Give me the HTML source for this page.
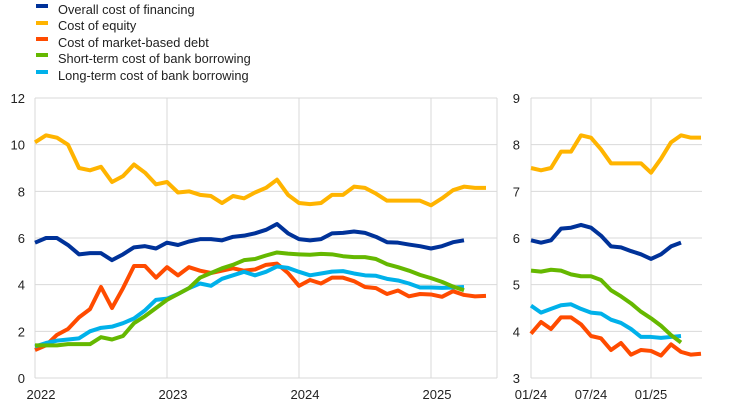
<!DOCTYPE html>
<html><head><meta charset="utf-8"><style>
html,body{margin:0;padding:0;background:#fff;}
svg{display:block;font-family:"Liberation Sans",Arial,sans-serif;}
</style></head><body>
<svg id="c" width="742" height="404" xmlns="http://www.w3.org/2000/svg">
<g fill="none" stroke="#d9d9d9" stroke-width="1" id="grid"></g>
<g id="lines" fill="none" stroke-width="4" stroke-linejoin="round" stroke-linecap="butt"></g>
<g font-size="13" fill="#222" id="labels"></g>
<g font-size="12.8" fill="#222">
<rect x="36" y="4" width="12" height="4" fill="#003299"/><text x="58" y="14">Overall cost of financing</text>
<rect x="36" y="21" width="12" height="4" fill="#ffb400"/><text x="58" y="30">Cost of equity</text>
<rect x="36" y="37" width="12" height="4" fill="#ff4b00"/><text x="58" y="47">Cost of market-based debt</text>
<rect x="36" y="53" width="12" height="4" fill="#65b800"/><text x="58" y="63">Short-term cost of bank borrowing</text>
<rect x="36" y="70" width="12" height="4" fill="#00b1ea"/><text x="58" y="80">Long-term cost of bank borrowing</text>
</g>
</svg>
<script>
var NS="http://www.w3.org/2000/svg";
function el(p,t,a,txt){var e=document.createElementNS(NS,t);for(var k in a)e.setAttribute(k,a[k]);if(txt!=null)e.textContent=txt;document.getElementById(p).appendChild(e);}
var eq=[10.1,10.4,10.3,10.0,9.0,8.9,9.05,8.4,8.65,9.15,8.8,8.3,8.4,7.95,8.0,7.85,7.8,7.5,7.8,7.7,7.95,8.15,8.5,7.85,7.75,7.5,7.45,7.5,7.85,7.85,8.2,8.15,7.9,7.6,7.6,7.6,7.6,7.4,7.7,8.05,8.2,8.15,8.15];
eq.splice(24,1);
var ov=[5.8,6.0,6.0,5.7,5.3,5.35,5.35,5.05,5.3,5.6,5.65,5.55,5.8,5.7,5.85,5.95,5.95,5.9,6.05,6.1,6.2,6.35,6.6,6.2,5.95,5.9,5.95,6.2,6.22,6.28,6.22,6.05,5.82,5.8,5.72,5.65,5.55,5.65,5.82,5.9];
var md=[1.2,1.4,1.85,2.1,2.6,2.95,3.9,3.0,3.85,4.8,4.8,4.3,4.75,4.4,4.75,4.6,4.5,4.6,4.7,4.6,4.65,4.85,4.9,4.5,3.95,4.2,4.05,4.3,4.3,4.15,3.9,3.85,3.6,3.75,3.5,3.6,3.58,3.48,3.72,3.56,3.5,3.52];
var st=[1.4,1.4,1.4,1.45,1.45,1.45,1.75,1.65,1.8,2.35,2.65,3.0,3.35,3.6,3.85,4.3,4.5,4.7,4.85,5.05,5.1,5.25,5.38,5.33,5.3,5.28,5.32,5.3,5.22,5.18,5.18,5.1,4.88,4.75,4.6,4.42,4.28,4.12,3.92,3.76];
var lt=[1.35,1.5,1.6,1.65,1.7,2.0,2.15,2.2,2.35,2.55,2.9,3.35,3.4,3.6,3.85,4.05,3.95,4.25,4.4,4.55,4.4,4.55,4.78,4.72,4.55,4.4,4.48,4.56,4.58,4.48,4.4,4.38,4.25,4.18,4.05,3.88,3.88,3.86,3.88,3.9];
for(var v=0;v<=12;v+=2){var y=378-v*23.333;el("grid","line",{x1:35,x2:497,y1:y,y2:y});el("labels","text",{x:25,y:y+5,"text-anchor":"end"},v);}
[35,167,299,431,497].forEach(function(x){el("grid","line",{x1:x,x2:x,y1:98,y2:378});});
["2022","2023","2024","2025"].forEach(function(t,i){el("labels","text",{x:35+132*i+6,y:399,"text-anchor":"middle"},t);});
for(var v=3;v<=9;v++){var y=378-(v-3)*46.667;el("grid","line",{x1:531,x2:702,y1:y,y2:y});el("labels","text",{x:520,y:y+5,"text-anchor":"end"},v);}
[531,591,651].forEach(function(x){el("grid","line",{x1:x,x2:x,y1:98,y2:378});});
["01/24","07/24","01/25"].forEach(function(t,i){el("labels","text",{x:531+60*i,y:399,"text-anchor":"middle"},t);});
var series=[[md,"#ff4b00"],[lt,"#00b1ea"],[st,"#65b800"],[ov,"#003299"],[eq,"#ffb400"]];
series.forEach(function(s){
 var d=s[0],p="",q="";
 for(var i=0;i<d.length;i++){p+=(35+11*i)+","+(378-d[i]*23.333)+" ";
  if(i>=24)q+=(531+10*(i-24))+","+(378-(d[i]-3)*46.667)+" ";}
 el("lines","polyline",{points:p,stroke:s[1]});
 el("lines","polyline",{points:q,stroke:s[1]});
});
</script>
</body></html>
